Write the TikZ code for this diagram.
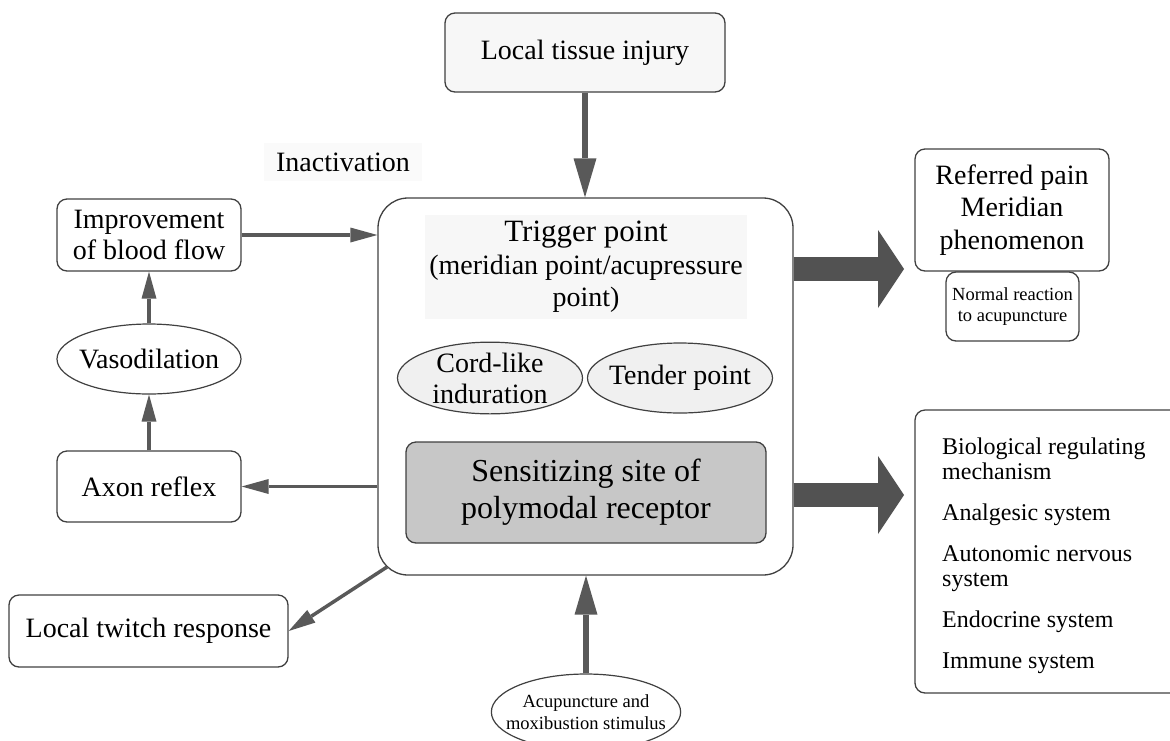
\documentclass[tikz,border=0pt]{standalone}
\usepackage{fontspec}
\setmainfont{Liberation Serif}
\usetikzlibrary{arrows.meta,shapes.geometric,calc}
\begin{document}
\begin{tikzpicture}[x=1pt,y=-1pt,
  box/.style={draw=black!75,line width=1.3pt,rounded corners=10pt,align=center,inner sep=0pt},
  oval/.style={draw=black!75,line width=1.2pt,ellipse,align=center,inner sep=0pt},
  thinarr/.style={draw=black!65,line width=3.5pt,-{Triangle[length=27pt,width=15pt,line width=0pt]}},
  medarr/.style={draw=black!65,line width=6pt,-{Triangle[length=39pt,width=23pt,line width=0pt]}},
  bigarr/.style={draw=black!68,line width=24pt,-{Triangle[length=26pt,width=78pt,line width=0pt]}},
  f28/.style={font=\fontsize{28}{31.5}\selectfont},
]
\useasboundingbox (0,0) rectangle (1170,740);
\clip (0,0) rectangle (1170,740);

% top
\node[box,f28,fill=black!3,minimum width=280pt,minimum height=79pt] (top) at (585,52.5) {Local tissue injury};

% center box
\node[box,rounded corners=30pt,minimum width=415pt,minimum height=377pt] (cb) at (585.5,386.5) {};
\node[fill=black!3,minimum width=322pt,minimum height=104pt,align=center,inner sep=0pt,
      font=\fontsize{28}{32.5}\selectfont] (trig) at (586,267)
  {{\fontsize{31}{32.5}\selectfont Trigger point}\\(meridian point/acupressure\\point)};
\node[oval,fill=black!6,font=\fontsize{28}{31}\selectfont,minimum width=185pt,minimum height=70pt] (cord) at (490,378) {Cord-like\\induration};
\node[oval,fill=black!6,f28,inner xsep=-7pt,minimum width=185pt,minimum height=70pt] (tender) at (680,378) {Tender point};
\node[box,fill=black!22,font=\fontsize{32}{37}\selectfont,minimum width=360pt,minimum height=101pt] (sens) at (586,492.5) {Sensitizing site of\\polymodal receptor};

% left column
\node[fill=black!2,f28,inner xsep=12pt,inner ysep=10pt] (inact) at (343,162) {Inactivation};
\node[box,f28,minimum width=184pt,minimum height=72pt] (impr) at (149,235) {Improvement\\of blood flow};
\node[oval,f28,fill=white,inner xsep=-6pt,minimum width=184pt,minimum height=70pt] (vaso) at (149,359) {Vasodilation};
\node[box,f28,minimum width=184pt,minimum height=71pt] (axon) at (149,486.5) {Axon reflex};
\node[box,f28,minimum width=279pt,minimum height=72pt] (twitch) at (148.5,631) {Local twitch response};

% right column
\node[box,font=\fontsize{28}{32.5}\selectfont,minimum width=194pt,minimum height=122pt] (ref) at (1012,210) {Referred pain\\Meridian\\phenomenon};
\node[box,font=\fontsize{18.5}{21}\selectfont,minimum width=133pt,minimum height=69pt] (norm) at (1012.5,306.5) {Normal reaction\\to acupuncture};
\node[box,minimum width=265pt,minimum height=283pt] (bio) at (1047.5,551.5) {};
\node[anchor=north west,inner sep=0pt,align=left,font=\fontsize{24}{25}\selectfont] (biotext) at (942,437.5)
  {Biological regulating\\mechanism\\[16pt]Analgesic system\\[16pt]Autonomic nervous\\system\\[16pt]Endocrine system\\[16pt]Immune system};

% bottom
\node[oval,fill=white,font=\fontsize{18.5}{22}\selectfont,inner xsep=-13pt,minimum width=188pt,minimum height=76pt] (acu) at (586,712) {Acupuncture and\\moxibustion stimulus};

% connectors
\coordinate (cbsw) at (387,567);
\coordinate (t1) at (904,269);
\coordinate (t2) at (904,495);
\draw[medarr] (top.south) -- (top.south |- cb.north);
\draw[medarr] (acu.north) -- (acu.north |- cb.south);
\draw[thinarr] (impr.east) -- (impr.east -| cb.west);
\draw[thinarr] (vaso.north) -- (impr.south);
\draw[thinarr] (axon.north) -- (vaso.south);
\draw[thinarr] (cb.west |- axon.east) -- (axon.east);
\draw[thinarr] (cbsw) -- (twitch.east);
\draw[bigarr] (cb.east |- t1) -- (t1);
\draw[bigarr] (cb.east |- t2) -- (t2);
\end{tikzpicture}
\end{document}
